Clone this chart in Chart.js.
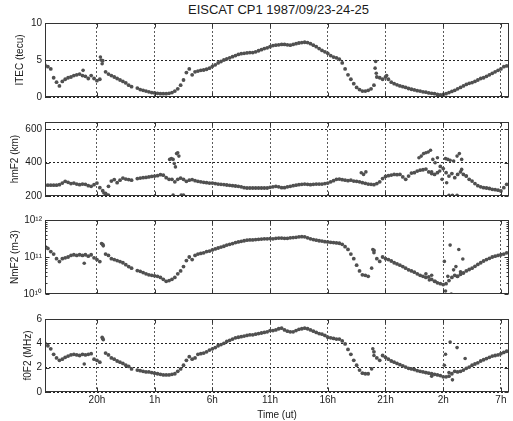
<!DOCTYPE html>
<html>
<head>
<meta charset="utf-8">
<script src="https://cdn.jsdelivr.net/npm/chart.js@4.4.0/dist/chart.umd.min.js"></script>
<style>
  html, body { margin: 0; padding: 0; background: #ffffff; }
  #wrap { position: relative; width: 513px; height: 421px; overflow: hidden; background: #fff; }
  #wrap canvas { position: absolute; left: 0; top: 0; }
  #title { position: absolute; left: 45px; width: 467px; top: 2px; text-align: center;
           font: 13px "Liberation Sans", Arial, sans-serif; color: #1a1a1a; }
</style>
</head>
<body>
<div id="wrap">
  <div id="title">EISCAT CP1 1987/09/23-24-25</div>
  <canvas id="c1" width="513" height="421"></canvas>
  <canvas id="c2" width="513" height="421"></canvas>
  <canvas id="c3" width="513" height="421"></canvas>
  <canvas id="c4" width="513" height="421"></canvas>
</div>
<script>
// Time in hours since 00h UT on 1987-09-23
const hours = [
15.5,15.75,16,16.25,16.5,16.75,17,17.25,17.5,17.75,18,18.25,18.5,18.75,19,19.25,
19.5,19.75,20,20.25,20.5,20.75,21,21.25,21.5,21.75,22,22.25,22.5,22.75,23,23.25,
23.5,23.75,24,24.25,24.5,24.75,25,25.25,25.5,25.75,26,26.25,26.5,26.75,27,27.25,
27.5,27.75,28,28.25,28.5,28.75,29,29.25,29.5,29.75,30,30.25,30.5,30.75,31,31.25,
31.5,31.75,32,32.25,32.5,32.75,33,33.25,33.5,33.75,34,34.25,34.5,34.75,35,35.25,
35.5,35.75,36,36.25,36.5,36.75,37,37.25,37.5,37.75,38,38.25,38.5,38.75,39,39.25,
39.5,39.75,40,40.25,40.5,40.75,41,41.25,41.5,41.75,42,42.25,42.5,42.75,43,43.25,
43.5,43.75,44,44.25,44.5,44.75,45,45.25,45.5,45.75,46,46.25,46.5,46.75,47,47.25,
47.5,47.75,48,48.25,48.5,48.75,49,49.25,49.5,49.75,50,50.25,50.5,50.75,51,51.25,
51.5,51.75,52,52.25,52.5,52.75,53,53.25,53.5,53.75,54,54.25,54.5,54.75,55,55.25,
55.5];

const itec = [
4.3,4.1,3.8,2.6,2.0,1.5,2.1,2.4,2.6,2.7,2.9,3.0,3.1,2.9,2.8,2.5,
2.9,2.5,2.2,2.4,4.9,3.4,3.1,2.9,2.7,2.5,2.3,2.1,1.9,1.6,1.4,null,
1.2,1.0,0.9,0.8,0.7,0.6,0.55,0.5,0.45,0.45,0.45,0.5,0.6,0.8,1.1,1.6,
2.3,3.3,3.8,3.0,3.4,3.5,3.6,3.65,3.75,3.9,4.15,4.35,4.6,4.8,5.0,5.15,
5.3,5.45,5.6,5.75,5.85,5.9,5.95,6.0,6.0,6.1,6.25,6.4,6.55,6.65,6.8,6.95,
7.0,7.05,7.1,7.1,7.05,7.0,7.1,7.2,7.3,7.35,7.4,7.35,7.2,7.0,6.8,6.55,
6.3,6.1,5.9,5.6,5.4,5.3,5.1,4.6,3.8,3.0,2.4,1.8,1.3,1.0,0.8,0.8,
0.9,1.1,1.6,2.7,2.6,2.4,2.7,2.4,2.0,1.8,1.65,1.5,1.4,1.3,1.15,1.05,
0.95,0.85,0.8,0.7,0.65,0.55,0.5,0.45,0.35,0.3,0.35,0.45,0.6,0.75,0.9,1.1,
1.3,1.5,1.7,1.85,1.95,2.1,2.3,2.5,2.6,2.8,3.0,3.2,3.4,3.6,3.8,4.1,
4.2];
const itecOutH = [18.8, 20.3, 20.35, 20.45, 44.1, 44.15, 44.2, 45.1];
const itecOutV = [3.6, 5.4, 5.0, 4.5, 3.9, 4.8, 3.2, 2.9];

const hmf2 = [
265,265,265,265,265,268,278,288,282,275,278,272,268,272,270,262,
258,268,278,250,232,215,258,290,299,280,295,308,302,299,295,null,
305,308,310,312,315,318,320,322,328,325,310,300,300,285,300,308,
300,288,295,299,292,288,285,282,280,278,278,275,272,270,269,266,
264,262,260,258,255,250,248,248,248,248,248,248,248,248,252,255,
258,255,250,250,255,258,262,265,268,270,272,270,268,270,272,272,
272,275,278,285,292,300,302,298,295,292,295,290,288,285,280,276,
272,270,268,275,285,305,318,322,326,330,328,330,315,300,320,338,
340,350,355,358,362,345,335,330,340,378,365,340,320,335,310,330,
345,330,320,300,290,275,262,255,250,248,245,240,238,235,230,250,
270];
const hmf2OutH = [20.6,20.8,21.0,26.3,26.45,26.6,26.7,26.8,26.9,27.0,27.1,26.6,27.3,27.5,42.9,43.1,43.3,47.9,48.1,48.3,48.5,48.7,48.9,49.1,49.3,49.5,49.7,50.2,50.4,50.6,50.9,51.2,51.4,51.6,49.0,49.9,50.3,50.5,50.8,51.2,51.6,52.0];
const hmf2OutV = [218,208,205,420,425,420,395,375,455,460,440,205,205,205,340,330,345,430,440,455,460,465,475,420,400,430,350,425,420,415,410,440,455,420,345,300,280,204,204,204,360,320];

const nmf2 = [
19e10,17e10,14e10,12e10,9e10,7.5e10,9e10,9.5e10,10e10,11e10,11.5e10,11e10,11.5e10,11e10,11.5e10,10.5e10,
11.5e10,9.5e10,8.5e10,7.5e10,22e10,12e10,11e10,9e10,8.5e10,8e10,7.5e10,7e10,6.2e10,5.5e10,5e10,null,
4.3e10,4.1e10,3.8e10,3.5e10,3.3e10,3.2e10,3.1e10,3.0e10,2.8e10,2.5e10,2.2e10,2.3e10,2.5e10,2.8e10,3.5e10,4.2e10,
5.5e10,8e10,10e10,8.5e10,11e10,12e10,12.5e10,13e10,14e10,14.5e10,15.5e10,16.5e10,17.5e10,18.5e10,19.5e10,21e10,
22e10,23e10,24.5e10,25.5e10,26.5e10,27.5e10,28.5e10,29e10,29e10,29.5e10,30e10,30.5e10,31e10,31e10,31.5e10,31e10,
32e10,32.5e10,32.5e10,32e10,32e10,33e10,33.5e10,34e10,35e10,35.5e10,35e10,33e10,31e10,29.5e10,28.5e10,27.5e10,
27e10,26e10,25.5e10,25e10,24.5e10,24e10,23.5e10,22e10,19e10,16e10,12e10,9e10,6e10,4.2e10,3.3e10,3.2e10,
3.0e10,null,15e10,9e10,7.6e10,10e10,9e10,8.5e10,7.8e10,7.0e10,6.5e10,6.0e10,5.5e10,5.0e10,4.5e10,4.2e10,
3.9e10,3.5e10,3.2e10,3.0e10,2.8e10,2.9e10,2.5e10,2.2e10,2.0e10,1.9e10,1.8e10,1.9e10,2.3e10,2.8e10,3.2e10,3.0e10,
3.4e10,3.7e10,4.2e10,4.6e10,5.0e10,5.6e10,6.3e10,7.0e10,7.8e10,8.5e10,9.2e10,10e10,10.5e10,11e10,11.5e10,12e10,
13e10];
const nmf2OutH = [18.9,20.4,20.55,43.8,43.9,44.0,48.5,48.8,49.0,49.3,50.1,50.2,50.4,50.6,50.7,50.9,51.1,51.35,51.5,51.7,51.2];
const nmf2OutV = [6.8e10,2.3e11,2.0e11,5e10,1.6e11,1.3e11,3.5e10,2.4e10,3.2e10,2.2e10,7.6e10,1.2e10,3.0e10,2.1e11,1.0e10,4.5e10,5.5e10,1.6e11,4.0e10,8.8e10,3.0e10];

const fof2 = [
4.0,3.8,3.55,3.1,2.8,2.6,2.7,2.85,2.95,3.05,3.1,3.05,3.0,3.1,3.05,3.1,
3.15,2.7,2.6,2.45,4.4,3.2,3.05,2.8,2.7,2.55,2.45,2.35,2.2,2.1,1.9,null,
1.8,1.75,1.7,1.65,1.65,1.6,1.55,1.5,1.45,1.4,1.4,1.4,1.45,1.5,1.7,1.9,
2.2,2.6,2.9,2.7,2.8,3.1,3.15,3.2,3.3,3.45,3.55,3.65,3.8,3.9,4.0,4.15,
4.25,4.35,4.45,4.5,4.55,4.6,4.65,4.7,4.7,4.75,4.8,4.85,4.9,4.95,5.05,5.05,
5.1,5.2,5.25,5.1,5.0,4.95,4.95,5.05,5.15,5.2,5.25,5.2,5.1,5.0,4.9,4.8,
4.75,4.65,4.5,4.45,4.4,4.35,4.35,4.2,3.95,3.5,3.1,2.6,2.2,1.8,1.55,1.5,
1.5,null,3.3,2.8,2.6,3.0,2.85,2.7,2.55,2.45,2.35,2.25,2.15,2.05,1.95,1.9,
1.85,1.75,1.7,1.65,1.6,1.55,1.5,1.45,1.4,1.35,1.25,1.25,1.3,1.5,1.7,1.65,
1.7,1.8,1.95,2.05,2.2,2.3,2.4,2.55,2.65,2.75,2.85,2.95,3.0,3.05,3.15,3.25,
3.35];
const fof2OutH = [18.9,20.45,20.55,43.8,43.9,44.0,50.1,50.2,50.5,50.6,50.8,51.2,51.9,48.5,49.0];
const fof2OutV = [2.3,4.5,4.3,1.9,3.55,3.0,2.2,3.1,1.6,4.1,1.0,3.65,2.75,1.6,1.3];

// Axis ticks
const timeTickValues = [20, 25, 30, 35, 40, 45, 50, 55];
const timeTickLabels = ['20h', '1h', '6h', '11h', '16h', '21h', '2h', '7h'];
const itecTicks = [0, 5, 10];
const hmf2Ticks = [200, 400, 600];
const nmf2Ticks = [1e10, 1e11, 1e12];
const nmf2TickLabels = ['10\u00B9\u2070', '10\u00B9\u00B9', '10\u00B9\u00B2'];
const fof2Ticks = [0, 2, 4, 6];

const FONT = '"Liberation Sans", Arial, Helvetica, sans-serif';
Chart.defaults.font.family = FONT;
Chart.defaults.color = '#1a1a1a';

function pts(xs, ys) {
  const out = [];
  for (let i = 0; i < xs.length; i++) if (ys[i] !== null) out.push({x: xs[i], y: ys[i]});
  return out;
}

const boxPlugin = {
  id: 'box',
  afterDraw(chart, args, opts) {
    const {ctx, chartArea: a, scales} = chart;
    ctx.save();
    ctx.strokeStyle = '#333';
    ctx.lineWidth = 1;
    ctx.setLineDash([]);
    ctx.beginPath();
    const L = Math.round(a.left) + 0.5, R = Math.round(a.right) - 0.5;
    const T = Math.round(a.top) + 0.5, B = Math.round(a.bottom) - 0.5;
    scales.x.ticks.forEach(t => {
      const px = Math.round(scales.x.getPixelForValue(t.value)) + 0.5;
      ctx.moveTo(px, B); ctx.lineTo(px, B - 4);
      ctx.moveTo(px, T); ctx.lineTo(px, T + 4);
    });
    scales.y.ticks.forEach(t => {
      const py = Math.round(scales.y.getPixelForValue(t.value)) + 0.5;
      ctx.moveTo(L, py); ctx.lineTo(L + 4, py);
      ctx.moveTo(R, py); ctx.lineTo(R - 4, py);
    });
    (opts.minor || []).forEach(v => {
      const py = Math.round(scales.y.getPixelForValue(v)) + 0.5;
      ctx.moveTo(L, py); ctx.lineTo(L + 2, py);
      ctx.moveTo(R, py); ctx.lineTo(R - 2, py);
    });
    ctx.stroke();
    ctx.strokeRect(L, T, R - L, B - T);
    ctx.restore();
  }
};

const nmf2Minor = [2e10,3e10,4e10,5e10,6e10,7e10,8e10,9e10,2e11,3e11,4e11,5e11,6e11,7e11,8e11,9e11];

function makePanel(id, cfg) {
  const last = !!cfg.last;
  return new Chart(document.getElementById(id), {
    type: 'scatter',
    data: {
      datasets: [
        {data: pts(hours, cfg.vals), pointRadius: 1.9, pointBackgroundColor: '#505050', pointBorderWidth: 0, showLine: false},
        {data: pts(cfg.outH, cfg.outV), pointRadius: 1.8, pointBackgroundColor: '#505050', pointBorderWidth: 0, showLine: false}
      ]
    },
    options: {
      responsive: false,
      animation: false,
      devicePixelRatio: 1,
      events: [],
      layout: {padding: {left: 0, right: 1, top: cfg.top, bottom: last ? 0 : 421 - cfg.bottom}},
      plugins: {legend: {display: false}, tooltip: {enabled: false}, box: {minor: cfg.minor}},
      scales: {
        x: {
          type: 'linear', min: 15.5, max: 55.7,
          afterBuildTicks: s => { s.ticks = timeTickValues.map(v => ({value: v})); },
          afterFit: s => { s.height = last ? 421 - cfg.bottom : 0; },
          ticks: {display: last, autoSkip: false, maxRotation: 0, padding: 2,
                  font: {size: 10}, color: '#1a1a1a',
                  callback: (v, i) => timeTickLabels[i]},
          grid: {display: true, color: '#5a5a5a', lineWidth: 1, drawTicks: false},
          border: {display: false, dash: [2, 2]},
          title: {display: last, text: 'Time (ut)', font: {size: 10}, color: '#1a1a1a', padding: {top: 0, bottom: 0}}
        },
        y: {
          type: cfg.log ? 'logarithmic' : 'linear', min: cfg.min, max: cfg.max,
          afterBuildTicks: s => { s.ticks = cfg.ticks.map(v => ({value: v})); },
          afterFit: s => { s.width = 45; },
          ticks: {padding: 3, font: {size: 10}, color: '#1a1a1a',
                  callback: (v, i) => cfg.tickLabels ? cfg.tickLabels[i] : String(cfg.ticks[i])},
          grid: {display: cfg.yGrid, color: '#222', lineWidth: 1, drawTicks: false},
          border: {display: false, dash: [2, 2]},
          title: {display: true, text: cfg.label, font: {size: 10}, color: '#1a1a1a', padding: {top: cfg.titlePad, bottom: 0}}
        }
      }
    },
    plugins: [boxPlugin]
  });
}

makePanel('c1', {vals: itec, outH: itecOutH, outV: itecOutV, min: 0, max: 10, ticks: itecTicks,
  label: 'ITEC (tecu)', top: 23, bottom: 97, yGrid: true, titlePad: 14});
makePanel('c2', {vals: hmf2, outH: hmf2OutH, outV: hmf2OutV, min: 200, max: 645, ticks: hmf2Ticks,
  label: 'hmF2 (km)', top: 122, bottom: 196, yGrid: true, titlePad: 9});
makePanel('c3', {vals: nmf2, outH: nmf2OutH, outV: nmf2OutV, min: 1e10, max: 1e12, ticks: nmf2Ticks,
  tickLabels: nmf2TickLabels, log: true, minor: nmf2Minor,
  label: 'NmF2 (m-3)', top: 220, bottom: 294, yGrid: false, titlePad: 9});
makePanel('c4', {vals: fof2, outH: fof2OutH, outV: fof2OutV, min: 0, max: 6, ticks: fof2Ticks,
  label: 'f0F2 (MHz)', top: 319, bottom: 392, yGrid: true, titlePad: 22, last: true});
</script>
</body>
</html>
